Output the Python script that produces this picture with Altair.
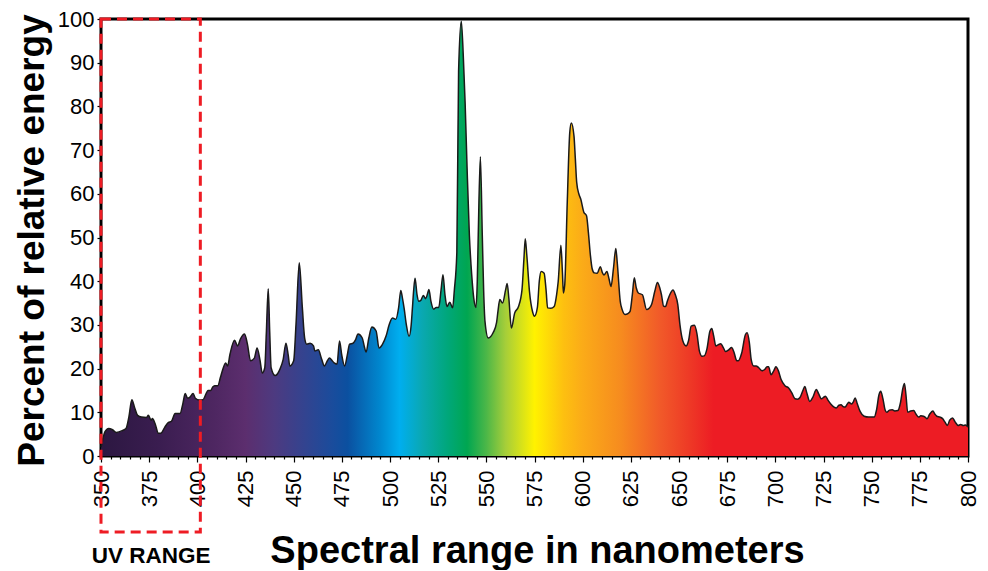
import altair as alt
import pandas as pd

# Spectrum (wavelength in nm, percent of relative energy)
wavelength = [
    350, 351, 352, 354, 356, 358, 361, 363, 364.5, 366, 367.5, 369, 371, 373.6, 374.6, 376, 376.7, 378,
    379.8, 381, 383, 385, 386.5, 388.5, 391, 392.5, 393.7, 395, 396, 397.8, 399, 401, 403, 404.5,
    405.5, 407, 408, 409, 410.6, 412, 413, 414.7, 415.7, 417, 419.3, 420.9, 422.4, 424.5, 426,
    427.6, 429.6, 431, 432.5, 433.7, 435, 435.8, 436.8, 437.6, 438.3, 440.4, 443, 444.5, 446,
    447.2, 448, 450, 451.2, 452.9, 454.5, 455.7, 456.8, 458.5, 460.3, 461, 462.8, 464.5, 466,
    467.5, 468.6, 470, 471, 472.5, 473.8, 475, 476.4, 478, 479, 480.8, 482, 483.4, 485.6, 486.7,
    487.6, 489, 490.6, 492.8, 494.3, 496, 498, 499.6, 501.3, 503, 504.5, 505.6, 506.5, 507.3,
    508.5, 509.9, 511, 511.6, 512.3, 513, 514, 515, 516, 517.3, 518.5, 519.4, 520.2, 521.2,
    522.7, 524, 525.3, 526.5, 527.5, 528.5, 529.6, 531, 532.5, 533.4, 534.7, 535.6, 537, 538,
    539, 540, 541.2, 542.4, 543.5, 544.6, 545.3, 545.8, 546.9, 547.9, 548.6, 549.3, 551, 553.5,
    555.3, 556, 557, 558.4, 560, 560.8, 561.7, 563, 564.7, 566.7, 568.5, 569.5, 570.2, 571,
    572.4, 574, 575, 576.5, 577.5, 578.4, 580, 581, 581.8, 583.5, 585.2, 586.5, 587.3, 588.7,
    589.5, 590, 590.7, 592, 593.3, 594.1, 595.5, 596.2, 596.9, 598, 599, 600.6, 602, 603, 604,
    604.9, 606, 607.5, 609.2, 610.2, 611, 612.6, 613.7, 614.7, 616, 617.2, 618, 619.5, 620.5,
    622, 623.5, 624.6, 625.8, 626.8, 627.8, 628.9, 631, 633.2, 634.5, 635.7, 637.5, 638.8, 640,
    640.9, 642, 643, 644, 645.2, 646.9, 648, 649.4, 650.5, 652, 653.7, 655, 656.3, 658, 659.3,
    660.6, 662, 663.1, 664.5, 666, 667, 668, 669.1, 670.5, 671.7, 673, 674.2, 675.8, 677.3,
    678.5, 680, 680.8, 682.5, 684.5, 685.4, 686.5, 687.5, 688.8, 690, 691.4, 693.1, 694.5,
    695.7, 696.5, 697.8, 699.3, 700.3, 701.5, 703, 705, 706.8, 708.5, 710.2, 711.5, 712.8,
    714.3, 715.3, 716.3, 717.9, 719.5, 721.3, 722.5, 723.9, 725, 726, 727.3, 729, 730.5, 731.6,
    733, 734.1, 735.2, 736.2, 737.2, 738.1, 739.6, 740.5, 741.4, 742.5, 744, 746.1, 748.5,
    751.3, 752.5, 753.8, 754.7, 755.8, 757, 757.8, 759.2, 760.7, 762, 763.6, 765, 766.2, 767,
    767.8, 768.7, 770.2, 771.8, 773, 774.4, 775.5, 776.9, 778, 778.7, 780, 781.8, 782.8, 783.8,
    785.5, 786.9, 788, 789.3, 790.5, 792, 793.3, 794.9, 796.2, 797.5, 798.7, 800,
]
energy = [
    2, 4, 5.5, 6.3, 6, 5.4, 5.8, 6.3, 9, 12.9, 11, 9.3, 8.9, 8.8, 9.3, 8.2, 8.6, 7.5,
    5.2, 5.2, 6.5, 7.7, 7.9, 9.7, 9.7, 12, 14.3, 13.2, 13.4, 14.3, 13.2, 12.8, 12.9, 14.2,
    15, 15, 15.8, 16.1, 16.1, 18, 19.5, 21.3, 20.6, 23.4, 26.5, 25.2, 26.8, 27.9, 25.6,
    21.8, 22.4, 24.7, 22, 19, 20.2, 28, 38.3, 28, 20.2, 18.4, 20, 22, 25.8,
    23, 20.6, 21.8, 30, 44.2, 34, 27, 25.6, 25.8, 25.2, 24, 24.3, 22.2, 20.6,
    21.8, 22.4, 21.8, 21.3, 21, 26.3, 23, 20.6, 23.5, 25.6, 25.8, 26.5, 27.9, 27, 25,
    23.8, 27, 29.5, 28.6, 24.7, 25.5, 27.5, 30.1, 31.6, 31.3, 34, 37.9, 36, 33.9,
    30, 27.4, 30, 33.6, 38, 40.7, 37, 35.4, 35.6, 36.7, 36, 37, 38.1, 35.5,
    33.6, 34, 34, 38, 41.5, 37, 34.2, 35.2, 33.9, 38, 46.7, 88, 99.5, 92,
    80.7, 66, 50.5, 41.5, 36, 34, 40, 50.5, 68.5, 50.5, 38, 30.8, 27, 28.2,
    30.5, 33, 35.8, 35, 38, 39.5, 36, 29.3, 32.7, 34.2, 38, 45, 49.7, 46,
    37.6, 33, 32, 34, 40, 42.2, 41.8, 38, 33.9, 33.8, 34.2, 37, 39.9, 48.2,
    42, 37.3, 39.2, 58, 74, 76.2, 73.2, 68, 62.6, 60, 58.8, 55.8, 55, 51, 46,
    42.9, 41.9, 41.8, 43.3, 42, 41.4, 42.2, 40.5, 38.8, 43, 47.5, 44, 35.4, 33.5,
    32.4, 32.6, 33.1, 37, 40.8, 38.5, 37.3, 36.9, 33.5, 33.8, 34.6, 37.8, 39.7, 38.5,
    36.9, 34.3, 34.2, 35.5, 36.9, 38, 37, 34.6, 30, 26.3, 25.2, 26.5, 29.7, 29.9, 28,
    24, 22.8, 22.9, 24.5, 28.5, 29.2, 27.5, 25.2, 25.5, 25.7, 24.8, 23.9, 24.3, 24.8,
    23.8, 21.8, 21.8, 23.5, 27.8, 28.2, 26, 22, 20.6, 20.6, 20.2, 19.5, 19.8,
    20.4, 20.4, 18.6, 19.6, 20.4, 19.6, 17.5, 16.1, 15.6, 14.5, 13.1, 13, 13.4,
    15, 15.9, 14.5, 12.5, 13.5, 15.2, 14.2, 13.1, 13.4, 13.7, 12.8, 11.8, 11.2, 11,
    11.6, 11.7, 11.3, 11.2, 11.8, 12.3, 11.9, 12.4, 13.3, 12, 10.2, 9.1, 8.9,
    8.9, 10.5, 14, 14.8, 13.2, 10.5, 10, 10.5, 10.6, 10.3, 10.4, 12.3, 15.5, 16.6,
    14, 10, 10.3, 10.4, 9.6, 8.9, 9.2, 9.1, 8.8, 8.5, 9.5, 10.3, 9.6, 9.1,
    8.9, 8.5, 7.8, 7, 8.2, 8.7, 7.8, 7, 7.2, 7, 7.1, 6.6,
]

# Spectrum colour stops (wavelength -> colour)
grad_nm = [350, 380, 410, 425, 440, 455, 470, 478, 495, 505, 517, 530, 540, 550, 560, 575, 590, 600, 620, 640, 655, 668, 800]
grad_colors = ["#2c1741", "#3a1d50", "#4f2762", "#5c2e6e", "#4d3a80", "#34438f", "#1a4c9c", "#0b50a0",
               "#0088cf", "#00aeef", "#0aa8b0", "#00a77a", "#00a651", "#4cb748", "#a6ce39", "#fff200",
               "#fdc010", "#fbab18", "#f68b1f", "#f15a29", "#ee3a26", "#ed1c24", "#ed1c24"]

x_domain = [350, 800]
y_domain = [0, 100]
x_tick_values = list(range(350, 801, 5))
y_tick_values = list(range(0, 101, 10))
uv_range = [350, 400]
uv_label = "UV RANGE"
x_title = "Spectral range in nanometers"
y_title = "Percent of relative energy"

FONT = "Liberation Sans"
MAJOR = "datum.value % 25 === 0"

df = pd.DataFrame({"nm": wavelength, "energy": energy})

span = x_domain[1] - x_domain[0]
stops = [alt.GradientStop(color=c, offset=(n - x_domain[0]) / span) for n, c in zip(grad_nm, grad_colors)]

x_enc = alt.X(
    "nm:Q",
    scale=alt.Scale(domain=x_domain, nice=False, zero=False),
    axis=alt.Axis(
        values=x_tick_values,
        tickCount=len(x_tick_values) + 10,
        labelExpr=MAJOR + " ? datum.label : ''",
        labelOverlap=False,
        labelAngle=270,
        labelFontSize={"condition": {"test": MAJOR, "value": 22}, "value": 0.1},
        labelPadding=8,
        tickSize={"condition": {"test": MAJOR, "value": 6}, "value": 3},
        title=x_title,
        titleFontSize=38,
        titleFontWeight="bold",
        titleX=436,
        titleY=106,
        titleAlign="center",
        titleBaseline="alphabetic",
        grid=False,
        domain=False,
    ),
)
y_enc = alt.Y(
    "energy:Q",
    scale=alt.Scale(domain=y_domain, nice=False),
    axis=alt.Axis(
        values=y_tick_values,
        tickCount=len(y_tick_values) + 5,
        labelFontSize=22,
        labelPadding=3,
        tickSize=4,
        title=y_title,
        titleFontSize=37,
        titleFontWeight="bold",
        titleAngle=270,
        titleX=-58,
        titleY=221,
        titleAlign="center",
        titleBaseline="alphabetic",
        grid=False,
        domain=False,
    ),
)

area = alt.Chart(df).mark_area(
    interpolate="monotone",
    color=alt.Gradient(gradient="linear", stops=stops, x1=0, x2=1, y1=0, y2=0),
).encode(x=x_enc, y=y_enc)

line = alt.Chart(df).mark_line(
    interpolate="monotone", color="#1a1a1a", strokeWidth=1.5
).encode(x="nm:Q", y="energy:Q")

uv_box = alt.Chart(pd.DataFrame({"x0": [uv_range[0]], "x1": [uv_range[1]]})).mark_rect(
    fill="transparent", stroke="#ee1c24", strokeWidth=3, strokeDash=[10, 6], x2Offset=3
).encode(
    x="x0:Q",
    x2="x1:Q",
    y=alt.datum(y_domain[1]),
    y2=alt.value(513),
)

uv_text = alt.Chart(pd.DataFrame({"x": [sum(uv_range) / 2], "t": [uv_label]})).mark_text(
    font=FONT, fontSize=22.5, fontWeight="bold", color="black", align="center", baseline="alphabetic", dx=2
).encode(x="x:Q", y=alt.value(544), text="t:N")

chart = alt.layer(area, line, uv_box, uv_text).properties(
    width=867,
    height=437,
    autosize=alt.AutoSizeParams(type="none"),
    padding={"left": 93, "top": 11, "right": 12, "bottom": 114},
).configure_view(
    stroke="black", strokeWidth=3
).configure_axis(
    labelFont=FONT, titleFont=FONT, labelColor="black", titleColor="black", tickColor="black", tickWidth=1.2
)

chart.save("out.html", embed_options={"renderer": "svg", "actions": False})
